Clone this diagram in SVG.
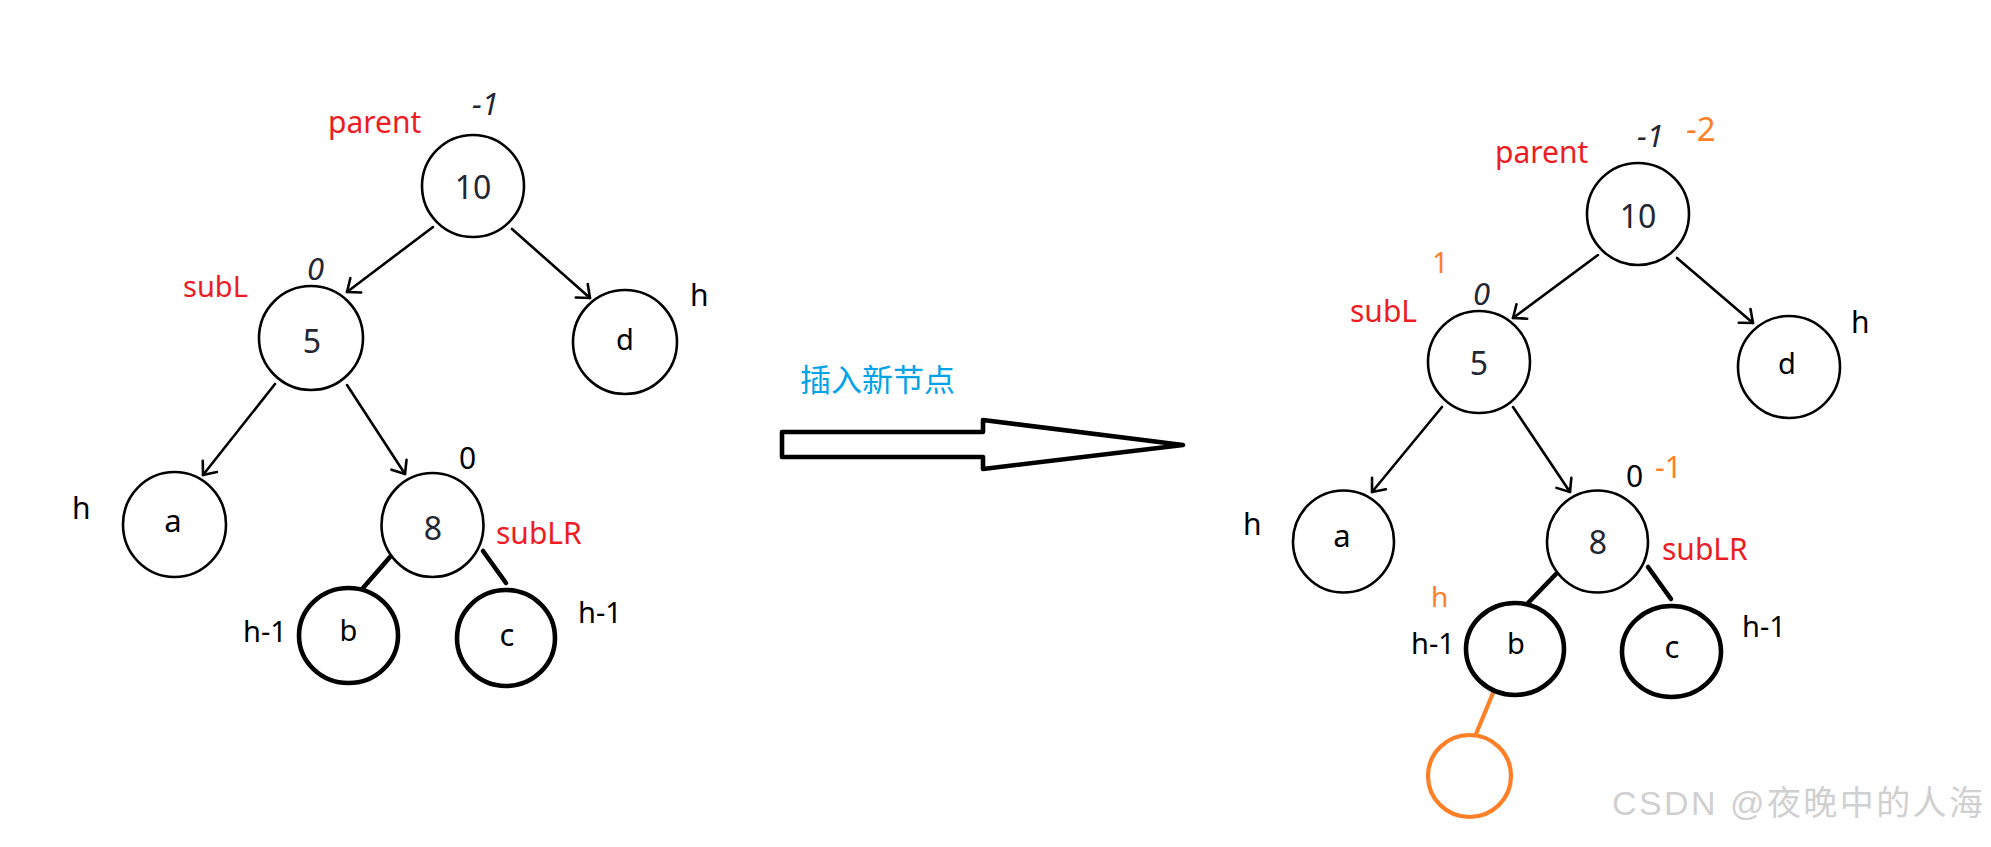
<svg xmlns="http://www.w3.org/2000/svg" width="1991" height="847" viewBox="0 0 1991 847">
<defs>
<marker id="arr" viewBox="-14 -11 16 22" refX="0" refY="0" markerWidth="16" markerHeight="22" markerUnits="userSpaceOnUse" orient="auto">
<path d="M-11,-9 L0,0 L-11,9" fill="none" stroke="#000" stroke-width="2.6" stroke-linecap="round" stroke-linejoin="round"/>
</marker>
</defs>
<style>
.n{fill:none;stroke:#000;stroke-width:2.6}
.k{fill:none;stroke:#000;stroke-width:4.6}
.o{fill:none;stroke:#FF7F27;stroke-width:4.2}
.e{fill:none;stroke:#000;stroke-width:2.6;stroke-linecap:round;marker-end:url(#arr)}
.s{stroke:#000;stroke-width:4.6;stroke-linecap:round}
.so{stroke:#FF7F27;stroke-width:4.2;stroke-linecap:round}
text{font-family:"Noto Sans","Liberation Sans",sans-serif}
.lb{font-size:30px;fill:#000}
.ch{font-size:29px;fill:#000;text-anchor:middle}
.dg{font-size:32px;fill:#232733;text-anchor:middle}
.it{font-size:31px;font-style:italic;fill:#232733}
.red{fill:#ED1C24}
.org{fill:#FF7F27}
</style>

<g id="connectors">
<line class="e" x1="433" y1="227" x2="347" y2="292"/>
<line class="e" x1="512" y1="229" x2="590" y2="298"/>
<line class="e" x1="275" y1="384" x2="203" y2="475"/>
<line class="e" x1="347" y1="385" x2="405" y2="474"/>
<line class="s" x1="390" y1="557" x2="363" y2="588"/>
<line class="s" x1="483" y1="551" x2="506" y2="583"/>
<line class="e" x1="1598" y1="255" x2="1513" y2="318"/>
<line class="e" x1="1677" y1="258" x2="1753" y2="323"/>
<line class="e" x1="1442" y1="407" x2="1372" y2="492"/>
<line class="e" x1="1513" y1="407" x2="1570" y2="492"/>
<line class="s" x1="1556" y1="574" x2="1528" y2="603"/>
<line class="s" x1="1648" y1="567" x2="1671" y2="599"/>
<line class="so" x1="1493" y1="693" x2="1476" y2="734"/>
</g>

<g id="L-10"><circle class="n" cx="473" cy="186" r="51"/><text class="dg" x="473" y="199">10</text></g>
<g id="L-5"><circle class="n" cx="311" cy="338" r="52"/><text class="dg" x="312" y="353">5</text></g>
<g id="L-d"><circle class="n" cx="625" cy="342" r="52"/><text class="ch" x="625" y="350">d</text></g>
<g id="L-a"><ellipse class="n" cx="174.5" cy="524.5" rx="51.5" ry="52.5"/><text class="ch" x="173" y="532" style="font-size:31px">a</text></g>
<g id="L-8"><ellipse class="n" cx="432.5" cy="525" rx="51" ry="52"/><text class="dg" x="433" y="540">8</text></g>
<g id="L-b"><ellipse class="k" cx="348.5" cy="635.5" rx="49.5" ry="47.5"/><text class="ch" x="348.5" y="641">b</text></g>
<g id="L-c"><ellipse class="k" cx="506" cy="638" rx="49" ry="48"/><text class="ch" x="507" y="646" style="font-size:31px">c</text></g>

<g id="L-labels">
<text class="lb red" x="328" y="133">parent</text>
<text class="it" x="472" y="115">-1</text>
<text class="lb red" x="183" y="297" style="font-size:29px">subL</text>
<text class="it" x="307" y="280">0</text>
<text class="lb" x="690" y="306">h</text>
<text class="lb" x="72" y="519">h</text>
<text class="lb" x="459" y="469">0</text>
<text class="lb red" x="496" y="544">subLR</text>
<text class="lb" x="243" y="642" style="font-size:29px">h-1</text>
<text class="lb" x="578" y="623" style="font-size:29px">h-1</text>
</g>

<g id="insert-arrow">
<text x="800" y="391" style="font-family:'Noto Sans CJK SC','Noto Sans',sans-serif;font-size:31px;fill:#00A2E8">插入新节点</text>
<polygon points="782,432 983,432 983,420 1183,445 983,469 983,457 782,457" fill="#fff" stroke="#000" stroke-width="4.6" stroke-linejoin="round"/>
</g>

<g id="R-10"><circle class="n" cx="1638" cy="214" r="51"/><text class="dg" x="1638" y="228">10</text></g>
<g id="R-5"><circle class="n" cx="1479" cy="362" r="51"/><text class="dg" x="1479" y="375">5</text></g>
<g id="R-d"><circle class="n" cx="1789" cy="367" r="51"/><text class="ch" x="1787" y="374">d</text></g>
<g id="R-a"><ellipse class="n" cx="1343.5" cy="541.5" rx="50.5" ry="51"/><text class="ch" x="1342" y="547" style="font-size:31px">a</text></g>
<g id="R-8"><ellipse class="n" cx="1597.5" cy="541.5" rx="50.5" ry="51"/><text class="dg" x="1598" y="554">8</text></g>
<g id="R-b"><ellipse class="k" cx="1515" cy="649" rx="49" ry="46"/><text class="ch" x="1516" y="654">b</text></g>
<g id="R-c"><ellipse class="k" cx="1671.5" cy="651.5" rx="49.5" ry="45.5"/><text class="ch" x="1672" y="658" style="font-size:31px">c</text></g>
<g id="R-new"><ellipse class="o" cx="1469.5" cy="776" rx="41.5" ry="41"/></g>

<g id="R-labels">
<text class="lb red" x="1495" y="163">parent</text>
<text class="it" x="1637" y="147">-1</text>
<text class="lb org" x="1686" y="141" style="font-size:33px">-2</text>
<text class="lb org" x="1432" y="273" style="font-size:29px">1</text>
<text class="it" x="1473" y="305">0</text>
<text class="lb red" x="1350" y="322">subL</text>
<text class="lb" x="1851" y="333">h</text>
<text class="lb" x="1243" y="535">h</text>
<text class="lb" x="1626" y="487">0</text>
<text class="lb org" x="1655" y="478">-1</text>
<text class="lb red" x="1662" y="560">subLR</text>
<text class="lb org" x="1431" y="607" style="font-size:28px">h</text>
<text class="lb" x="1411" y="654" style="font-size:29px">h-1</text>
<text class="lb" x="1742" y="637" style="font-size:29px">h-1</text>
</g>

<text x="1612" y="815" textLength="371" style="font-family:'Liberation Sans','Noto Sans CJK SC',sans-serif;font-size:34px;fill:#d0d0d0">CSDN @夜晚中的人海</text>
</svg>
